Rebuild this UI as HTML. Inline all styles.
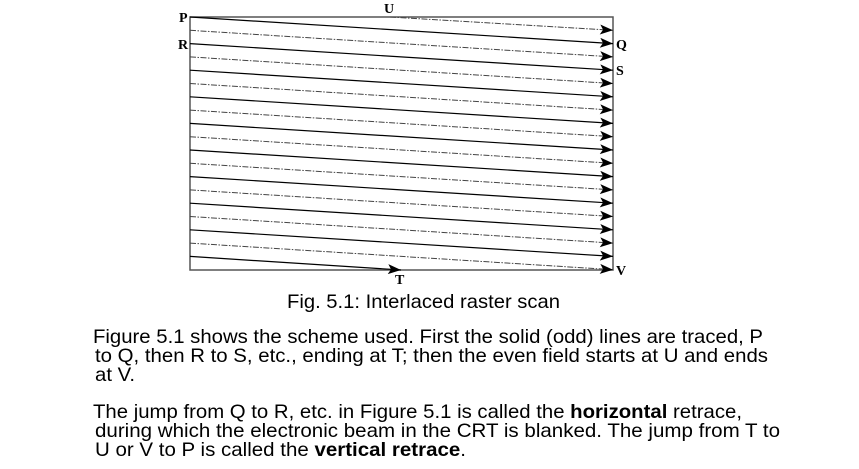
<!DOCTYPE html>
<html><head><meta charset="utf-8"><style>
html,body{margin:0;padding:0;background:#fff;width:859px;height:469px;overflow:hidden}
svg{display:block}
.t{font-family:"Liberation Sans",Arial,sans-serif;font-size:19.5px;fill:#000}
.l{font-family:"Liberation Serif",serif;font-weight:bold;font-size:14px;fill:#000}
</style></head><body>
<svg width="859" height="469" viewBox="0 0 859 469" xmlns="http://www.w3.org/2000/svg">
<defs>
<marker id="a" markerUnits="userSpaceOnUse" markerWidth="14" markerHeight="10" refX="13" refY="5" orient="auto">
<path d="M0,0 L13,5 L0,10 L3,5 Z" fill="#000"/></marker>
</defs>
<rect x="190" y="17" width="423" height="253" fill="none" stroke="#555" stroke-width="1.5"/>
<g stroke="#000" stroke-width="1.2" marker-end="url(#a)">
<line x1="190" y1="17" x2="613" y2="43.6"/>
<line x1="190" y1="43.6" x2="613" y2="70.2"/>
<line x1="190" y1="70.2" x2="613" y2="96.8"/>
<line x1="190" y1="96.8" x2="613" y2="123.4"/>
<line x1="190" y1="123.4" x2="613" y2="150"/>
<line x1="190" y1="150" x2="613" y2="176.6"/>
<line x1="190" y1="176.6" x2="613" y2="203.2"/>
<line x1="190" y1="203.2" x2="613" y2="229.8"/>
<line x1="190" y1="229.8" x2="613" y2="256.4"/>
<line x1="190" y1="256.4" x2="401" y2="270"/>
</g>
<g stroke="#444" stroke-width="1" stroke-dasharray="6,1.5,1.5,1.5" marker-end="url(#a)">
<line x1="390" y1="17" x2="613" y2="30.3"/>
<line x1="190" y1="30.3" x2="613" y2="56.9"/>
<line x1="190" y1="56.9" x2="613" y2="83.5"/>
<line x1="190" y1="83.5" x2="613" y2="110.1"/>
<line x1="190" y1="110.1" x2="613" y2="136.7"/>
<line x1="190" y1="136.7" x2="613" y2="163.3"/>
<line x1="190" y1="163.3" x2="613" y2="189.9"/>
<line x1="190" y1="189.9" x2="613" y2="216.5"/>
<line x1="190" y1="216.5" x2="613" y2="243.1"/>
<line x1="190" y1="243.1" x2="613" y2="269.7"/>
</g>
<text class="l" x="179" y="22">P</text>
<text class="l" x="178" y="49">R</text>
<text class="l" x="384" y="13">U</text>
<text class="l" x="616" y="49">Q</text>
<text class="l" x="616" y="75">S</text>
<text class="l" x="395" y="284">T</text>
<text class="l" x="616" y="275">V</text>
<text class="t" x="287" y="308" textLength="273" lengthAdjust="spacingAndGlyphs">Fig. 5.1: Interlaced raster scan</text>
<text class="t" x="93" y="343" textLength="670" lengthAdjust="spacingAndGlyphs">Figure 5.1 shows the scheme used. First the solid (odd) lines are traced, P</text>
<text class="t" x="95" y="362" textLength="673" lengthAdjust="spacingAndGlyphs">to Q, then R to S, etc., ending at T; then the even field starts at U and ends</text>
<text class="t" x="95" y="381" textLength="40" lengthAdjust="spacingAndGlyphs">at V.</text>
<text class="t" x="93" y="418" textLength="649" lengthAdjust="spacingAndGlyphs">The jump from Q to R, etc. in Figure 5.1 is called the <tspan font-weight="bold">horizontal</tspan> retrace,</text>
<text class="t" x="95" y="437" textLength="685" lengthAdjust="spacingAndGlyphs">during which the electronic beam in the CRT is blanked.  The jump from T to</text>
<text class="t" x="95" y="456" textLength="371" lengthAdjust="spacingAndGlyphs">U or V to P is called the <tspan font-weight="bold">vertical retrace</tspan>.</text>
</svg>
</body></html>
